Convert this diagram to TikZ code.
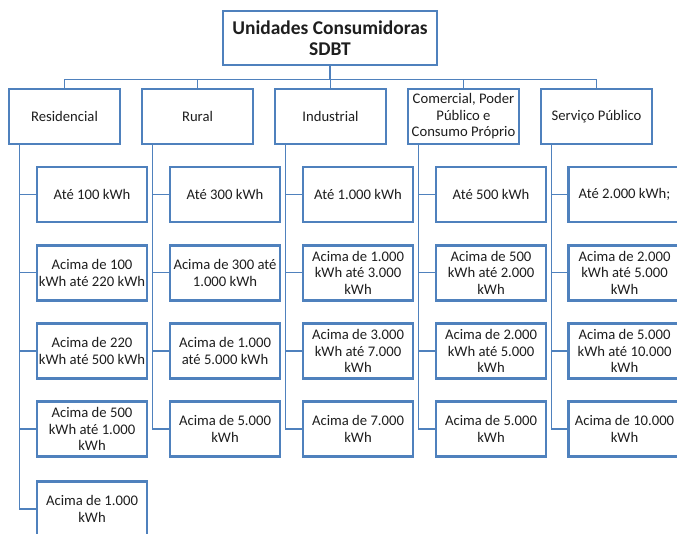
\documentclass[tikz,border=0pt]{standalone}
\usepackage{fontspec}
\setmainfont{Carlito}
\usepackage{tikz}
\usetikzlibrary{positioning,shadows}
\definecolor{boxblue}{RGB}{79,129,189}
\definecolor{txtgray}{RGB}{30,30,30}

\begin{document}
\begin{tikzpicture}[x=0.75pt,y=0.75pt,yscale=-1,xscale=1,
  box/.style={draw=boxblue, line width=2.2pt, fill=white, align=center, inner sep=1pt, text=txtgray,
    drop shadow={opacity=0.25, shadow xshift=1pt, shadow yshift=-1pt}},
  root/.style={box, minimum width=160.5pt, minimum height=40.5pt, font=\fontsize{14.6}{16}\selectfont\bfseries},
  cat/.style={box, minimum width=83.25pt, minimum height=41.25pt, font=\fontsize{11}{12.4}\selectfont},
  sub/.style={box, minimum width=82.5pt, minimum height=41.25pt, font=\fontsize{11}{12.4}\selectfont},
  link/.style={draw=boxblue, line width=1.1pt}]
\useasboundingbox (0,0) rectangle (677,533);
\clip (0,0) rectangle (677,533);

% Root
\draw (330,38) node [root] (root) {Unidades Consumidoras\\SDBT};

% Classes
\draw (64.5,116.5) node [cat] (res) {Residencial};
\draw (197.5,116.5) node [cat] (rur) {Rural};
\draw (330.5,116.5) node [cat] (ind) {Industrial};
\draw (463.5,116.5) node [cat] (com) {Comercial, Poder\\Público e\\Consumo Próprio};
\draw (596.5,116.5) node [cat] (ser) {Serviço Público};

% Residencial
\draw (92,194.5) node [sub] (res1) {Até 100 kWh};
\draw (92,272.7) node [sub] (res2) {Acima de 100\\kWh até 220 kWh};
\draw (92,350.9) node [sub] (res3) {Acima de 220\\kWh até 500 kWh};
\draw (92,429.1) node [sub] (res4) {Acima de 500\\kWh até 1.000\\kWh};
\draw (92,509) node [sub] (res5) {Acima de 1.000\\kWh};
% Rural
\draw (225,194.5) node [sub] (rur1) {Até 300 kWh};
\draw (225,272.7) node [sub] (rur2) {Acima de 300 até\\1.000 kWh};
\draw (225,350.9) node [sub] (rur3) {Acima de 1.000\\até 5.000 kWh};
\draw (225,429.1) node [sub] (rur4) {Acima de 5.000\\kWh};
% Industrial
\draw (358,194.5) node [sub] (ind1) {Até 1.000 kWh};
\draw (358,272.7) node [sub] (ind2) {Acima de 1.000\\kWh até 3.000\\kWh};
\draw (358,350.9) node [sub] (ind3) {Acima de 3.000\\kWh até 7.000\\kWh};
\draw (358,429.1) node [sub] (ind4) {Acima de 7.000\\kWh};
% Comercial
\draw (491,194.5) node [sub] (com1) {Até 500 kWh};
\draw (491,272.7) node [sub] (com2) {Acima de 500\\kWh até 2.000\\kWh};
\draw (491,350.9) node [sub] (com3) {Acima de 2.000\\kWh até 5.000\\kWh};
\draw (491,429.1) node [sub] (com4) {Acima de 5.000\\kWh};
% Servico
\draw (624.5,194.5) node [sub, minimum width=84pt] (ser1) {Até 2.000 kWh;};
\draw (624.5,272.7) node [sub, minimum width=84pt] (ser2) {Acima de 2.000\\kWh até 5.000\\kWh};
\draw (624.5,350.9) node [sub, minimum width=84pt] (ser3) {Acima de 5.000\\kWh até 10.000\\kWh};
\draw (624.5,429.1) node [sub, minimum width=84pt] (ser4) {Acima de 10.000\\kWh};

% Connectors
\foreach \c in {res,rur,ind,com,ser}
  \draw [link] (root.south) -- ++(0,13) -| (\c.north);
\foreach \i in {1,...,5}
  \draw [link] ([xshift=9pt]res.south west) |- (res\i.west);
\foreach \c in {rur,ind,com,ser}
  \foreach \i in {1,...,4}
    \draw [link] ([xshift=9pt]\c.south west) |- (\c\i.west);

\end{tikzpicture}
\end{document}
